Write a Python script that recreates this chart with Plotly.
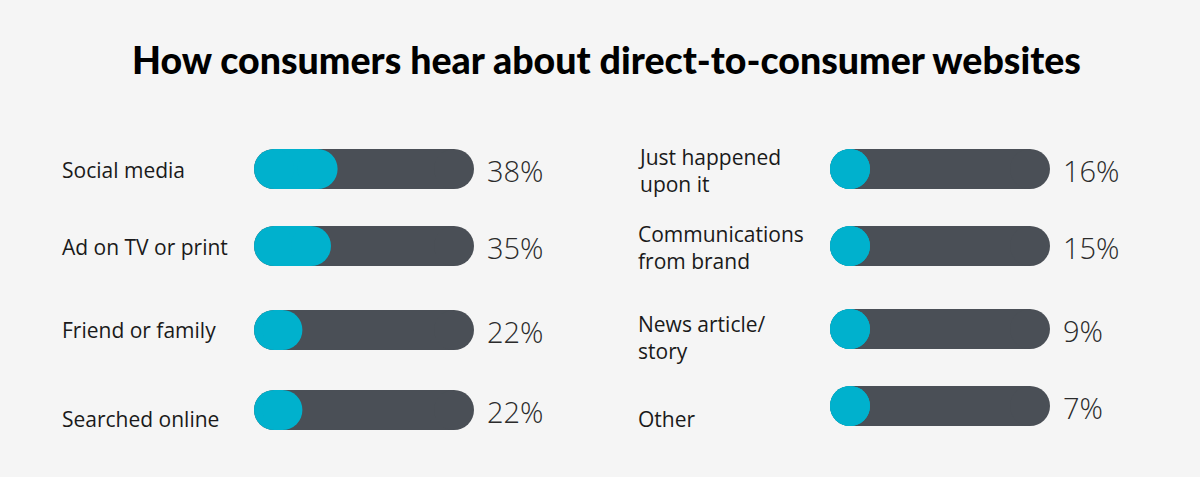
import plotly.graph_objects as go

# ---- data ----
left_labels = ["Social media", "Ad on TV or print", "Friend or family", "Searched online"]
left_values = [38, 35, 22, 22]
right_labels = ["Just happened<br>upon it", "Communications<br>from brand", "News article/<br>story", "Other"]
right_values = [16, 15, 9, 7]
title_text = "How consumers hear about direct-to-consumer websites"

# ---- layout constants (pixels) ----
W, H = 1200, 477
BG = "#f5f5f5"
TRACK = "#4a4f56"
FILL = "#00b1cd"
TRACK_PX = 220
BAR_H = 40
left_track_x0 = 254
right_track_x0 = 830
left_bar_y = [169, 246, 330, 410]
right_bar_y = [169, 246, 329, 406]
left_label_y = [170, 247, 330, 419]
right_label_y = [170, 247.5, 337, 419]
left_label_x = 60
right_label_x = 636

r_units = (BAR_H / 2) / TRACK_PX * 100  # radius in percent units


def pill(xref, x0, x1, yc, color):
    shapes = []
    if x1 - x0 > 2 * r_units:
        shapes.append(dict(type="rect", xref=xref, yref="y", x0=x0 + r_units, x1=x1 - r_units,
                           y0=yc - BAR_H / 2, y1=yc + BAR_H / 2, fillcolor=color,
                           line=dict(width=0), layer="above"))
    for cx0 in (x0, x1 - 2 * r_units):
        shapes.append(dict(type="circle", xref=xref, yref="y", x0=cx0, x1=cx0 + 2 * r_units,
                           y0=yc - BAR_H / 2, y1=yc + BAR_H / 2, fillcolor=color,
                           line=dict(width=0), layer="above"))
    return shapes


fig = go.Figure()
fig.add_trace(go.Scatter(x=[0, 100], y=[0, 0], xaxis="x", yaxis="y", mode="markers",
                         marker=dict(opacity=0), hoverinfo="skip", showlegend=False))
fig.add_trace(go.Scatter(x=[0, 100], y=[0, 0], xaxis="x2", yaxis="y", mode="markers",
                         marker=dict(opacity=0), hoverinfo="skip", showlegend=False))

shapes = []
annotations = []

label_font = dict(family="Open Sans", size=21, color="#1a1a1a")
value_font = dict(family="Open Sans", size=29, color="#2b2b2b", weight=300)

for xref, labels, values, bar_y, lab_y, lab_x in [
    ("x", left_labels, left_values, left_bar_y, left_label_y, left_label_x),
    ("x2", right_labels, right_values, right_bar_y, right_label_y, right_label_x),
]:
    for lab, v, by, ly in zip(labels, values, bar_y, lab_y):
        shapes += pill(xref, 0, 100, by, TRACK)
        shapes += pill(xref, 0, max(v, 2 * r_units), by, FILL)
        annotations.append(dict(xref="paper", yref="y", x=lab_x / W, y=ly, text=lab,
                                showarrow=False, xanchor="left", yanchor="middle", align="left",
                                font=label_font))
        annotations.append(dict(xref=xref, yref="y", x=100, y=by + 1, xshift=11, text=f"{v}%",
                                showarrow=False, xanchor="left", yanchor="middle",
                                font=value_font))

annotations.append(dict(xref="paper", yref="y", x=606 / W, y=59, text=title_text,
                        showarrow=False, xanchor="center", yanchor="middle",
                        font=dict(family="Lato", size=37.5, color="#000000", weight=900)))

fig.update_layout(
    width=W, height=H,
    margin=dict(l=0, r=0, t=0, b=0),
    paper_bgcolor=BG, plot_bgcolor=BG,
    showlegend=False,
    shapes=shapes,
    annotations=annotations,
    xaxis=dict(domain=[left_track_x0 / W, (left_track_x0 + TRACK_PX) / W], range=[0, 100],
               visible=False, fixedrange=True),
    xaxis2=dict(domain=[right_track_x0 / W, (right_track_x0 + TRACK_PX) / W], range=[0, 100],
                visible=False, fixedrange=True, anchor="y"),
    yaxis=dict(domain=[0, 1], range=[H, 0], visible=False, fixedrange=True),
)

fig.write_html(
    "out.html",
    config={"displayModeBar": False},
    post_script="document.body.style.margin='0';document.body.style.background='%s';" % BG,
)
